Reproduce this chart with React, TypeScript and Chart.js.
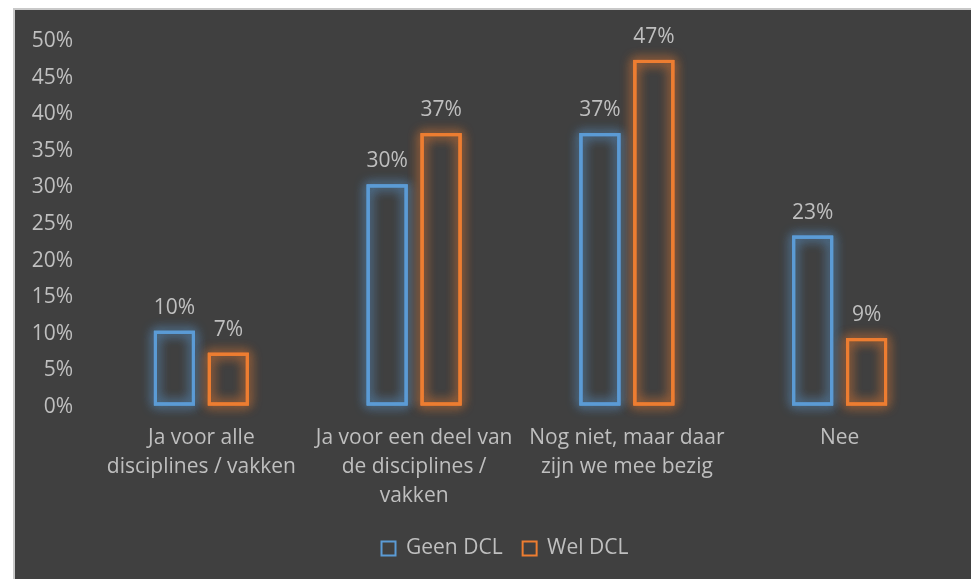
import React, { useEffect, useRef } from "react";
import { Chart, registerables } from "chart.js";

Chart.register(...registerables);

const categories: string[][] = [
  ["Ja voor alle", "disciplines / vakken"],
  ["Ja voor een deel van", "de disciplines /", "vakken"],
  ["Nog niet, maar daar", "zijn we mee bezig"],
  ["Nee"],
];
const seriesNames = ["Geen DCL", "Wel DCL"];
const geenDCL = [10, 30, 37, 23];
const welDCL = [7, 37, 47, 9];
const seriesColors = ["#5B9BD5", "#ED7D31"];
const glowColors = ["rgba(91,155,213,0.85)", "rgba(237,125,49,0.85)"];

const TEXT = "#bfbfbf";
const FONT = "'Open Sans', 'Noto Sans', sans-serif";
const FS = 21;

const glowBars = {
  id: "glowBars",
  afterLayout(chart: any) {
    if (chart.legend) {
      chart.legend.left += 32;
      chart.legend.right += 32;
    }
  },
  afterDatasetsDraw(chart: any) {
    const ctx = chart.ctx;
    chart.data.datasets.forEach((ds: any, di: number) => {
      const meta = chart.getDatasetMeta(di);
      if (meta.hidden) return;
      meta.data.forEach((el: any, i: number) => {
        const { x, y, base, width } = el.getProps(["x", "y", "base", "width"], true);
        const lw = 3;
        const left = x - width / 2 + lw / 2;
        const top = y + lw / 2;
        const w = width - lw;
        const h = base - y - lw / 2;
        ctx.save();
        ctx.strokeStyle = seriesColors[di];
        ctx.lineWidth = lw;
        ctx.shadowColor = glowColors[di];
        ctx.shadowBlur = 12;
        for (let k = 0; k < 2; k++) ctx.strokeRect(left, top, w, h);
        ctx.shadowBlur = 0;
        ctx.strokeRect(left, top, w, h);
        ctx.restore();
        // value label
        ctx.save();
        ctx.fillStyle = TEXT;
        ctx.font = `${FS}px ${FONT}`;
        ctx.textAlign = "center";
        ctx.textBaseline = "middle";
        ctx.fillText(`${ds.data[i]}%`, x, y - 23);
        ctx.restore();
      });
    });
  },
};

export default function App() {
  const ref = useRef<HTMLCanvasElement | null>(null);
  useEffect(() => {
    if (!ref.current) return;
    const chart = new Chart(ref.current, {
      type: "bar",
      data: {
        labels: categories,
        datasets: [
          { label: seriesNames[0], data: geenDCL, backgroundColor: "transparent", borderWidth: 0 },
          { label: seriesNames[1], data: welDCL, backgroundColor: "transparent", borderWidth: 0 },
        ],
      },
      options: {
        responsive: false,
        animation: false,
        devicePixelRatio: 1,
        layout: { padding: { top: 38, right: 25, bottom: 10, left: 0 } },
        datasets: { bar: { barPercentage: 0.76, categoryPercentage: 0.507 } },
        scales: {
          x: {
            grid: { display: false, drawTicks: false },
            border: { display: false },
            ticks: {
              color: TEXT,
              font: { family: FONT, size: FS, lineHeight: 1.38 },
              maxRotation: 0,
              autoSkip: false,
              padding: 20,
            },
            afterFit: (s: any) => {
              s.height = 114;
            },
          },
          y: {
            min: 0,
            max: 50,
            grid: { display: false, drawTicks: false },
            border: { display: false },
            ticks: {
              stepSize: 5,
              color: TEXT,
              font: { family: FONT, size: FS },
              padding: 22,
              labelOffset: 3,
              callback: (v: any) => `${v}%`,
            },
            afterFit: (s: any) => {
              s.width = 95;
            },
          },
        },
        plugins: {
          tooltip: { enabled: false },
          legend: {
            position: "bottom",
            labels: {
              color: TEXT,
              font: { family: FONT, size: FS },
              boxWidth: 14,
              boxHeight: 14,
              padding: 20,
              generateLabels: (chart: any) =>
                chart.data.datasets.map((ds: any, i: number) => ({
                  text: ds.label,
                  fillStyle: "transparent",
                  strokeStyle: seriesColors[i],
                  lineWidth: 2,
                  fontColor: TEXT,
                  hidden: false,
                  datasetIndex: i,
                })),
            },
          },
        },
      },
      plugins: [glowBars],
    });
    return () => chart.destroy();
  }, []);

  return (
    <div style={{ position: "fixed", left: 0, top: 0, width: 971, height: 579, background: "#fff", overflow: "hidden" }}>
      <div
        style={{
          position: "absolute",
          left: 13,
          top: 8,
          width: 971,
          height: 579,
          background: "#404040",
          borderLeft: "2px solid #c9c9c9",
          borderTop: "2px solid #c9c9c9",
        }}
      />
      <canvas ref={ref} width={971} height={579} style={{ position: "absolute", left: 0, top: 0 }} />
    </div>
  );
}
